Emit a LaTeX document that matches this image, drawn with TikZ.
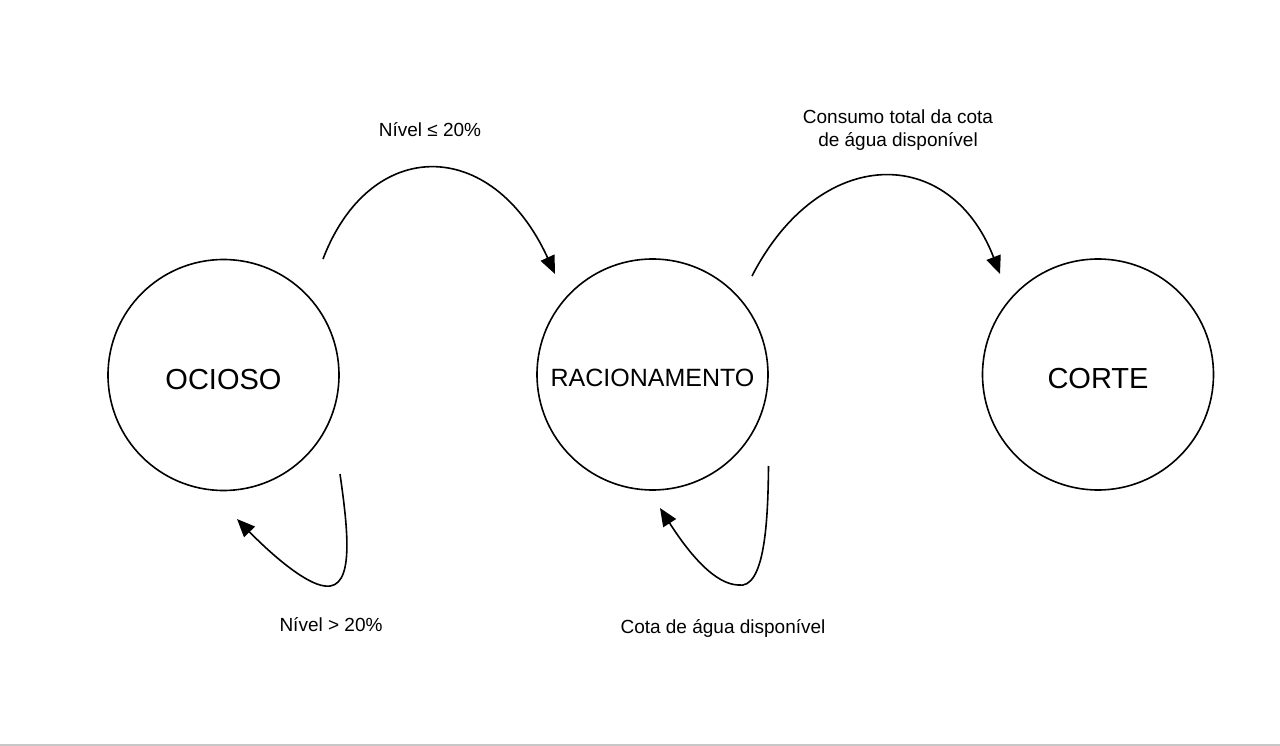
\documentclass[tikz,border=0pt]{standalone}
\usepackage{fontspec}
\setmainfont{Liberation Sans}
\usetikzlibrary{arrows.meta}
\begin{document}
\begin{tikzpicture}[x=1pt,y=-1pt,
  statebox/.style={draw=black,line width=1.6pt,circle,minimum size=231pt,inner sep=0pt},
  bigtxt/.style={font=\fontsize{29}{33}\selectfont},
  midtxt/.style={font=\fontsize{25}{29}\selectfont},
  lbl/.style={font=\fontsize{19}{23.5}\selectfont,align=center,inner sep=0pt},
  conn/.style={line width=1.6pt,-{Triangle[length=18pt,width=15pt]}}]
\useasboundingbox (0,0) rectangle (1280,746);
\fill[white] (0,0) rectangle (1280,746);
\fill[black!22] (0,743.5) rectangle (1280,746);
\node[statebox,bigtxt] (ocioso) at (223.5,375) {\raisebox{-4.5pt}[\height][\depth]{OCIOSO}};
\node[statebox,midtxt] (rac) at (652.5,374.5) {\raisebox{-3.5pt}[\height][\depth]{RACIONAMENTO}};
\node[statebox,bigtxt] (corte) at (1098,374.5) {\raisebox{-4.5pt}[\height][\depth]{CORTE}};
\coordinate (a1s) at (323,259);
\coordinate (a1e) at (555,274);
\coordinate (a2s) at (752,276);
\coordinate (a2e) at (1000,274);
\coordinate (l1s) at (340,474);
\coordinate (l1m) at (325,586);
\coordinate (l1e) at (237,519);
\coordinate (l2s) at (768.5,466);
\coordinate (l2m) at (738,585);
\coordinate (l2e) at (660,508);
\draw[conn] (a1s) .. controls (370,136) and (492,136) .. (a1e);
\draw[conn] (a2s) .. controls (820,144) and (950,144) .. (a2e);
\draw[conn] (l1s) .. controls (348,530) and (355,590) .. (l1m) .. controls (305,584) and (270,553) .. (l1e);
\draw[conn] (l2s) .. controls (768,520) and (765,590) .. (l2m) .. controls (715,584) and (690,555) .. (l2e);
\node[lbl] (t1) at (430,130) {Nível ≤ 20\%};
\node[lbl] (t2) at (898,130) {Consumo total da cota\\de água disponível};
\node[lbl] (t3) at (331,625) {Nível > 20\%};
\node[lbl] (t4) at (723,628) {Cota de água disponível};
\end{tikzpicture}
\end{document}
